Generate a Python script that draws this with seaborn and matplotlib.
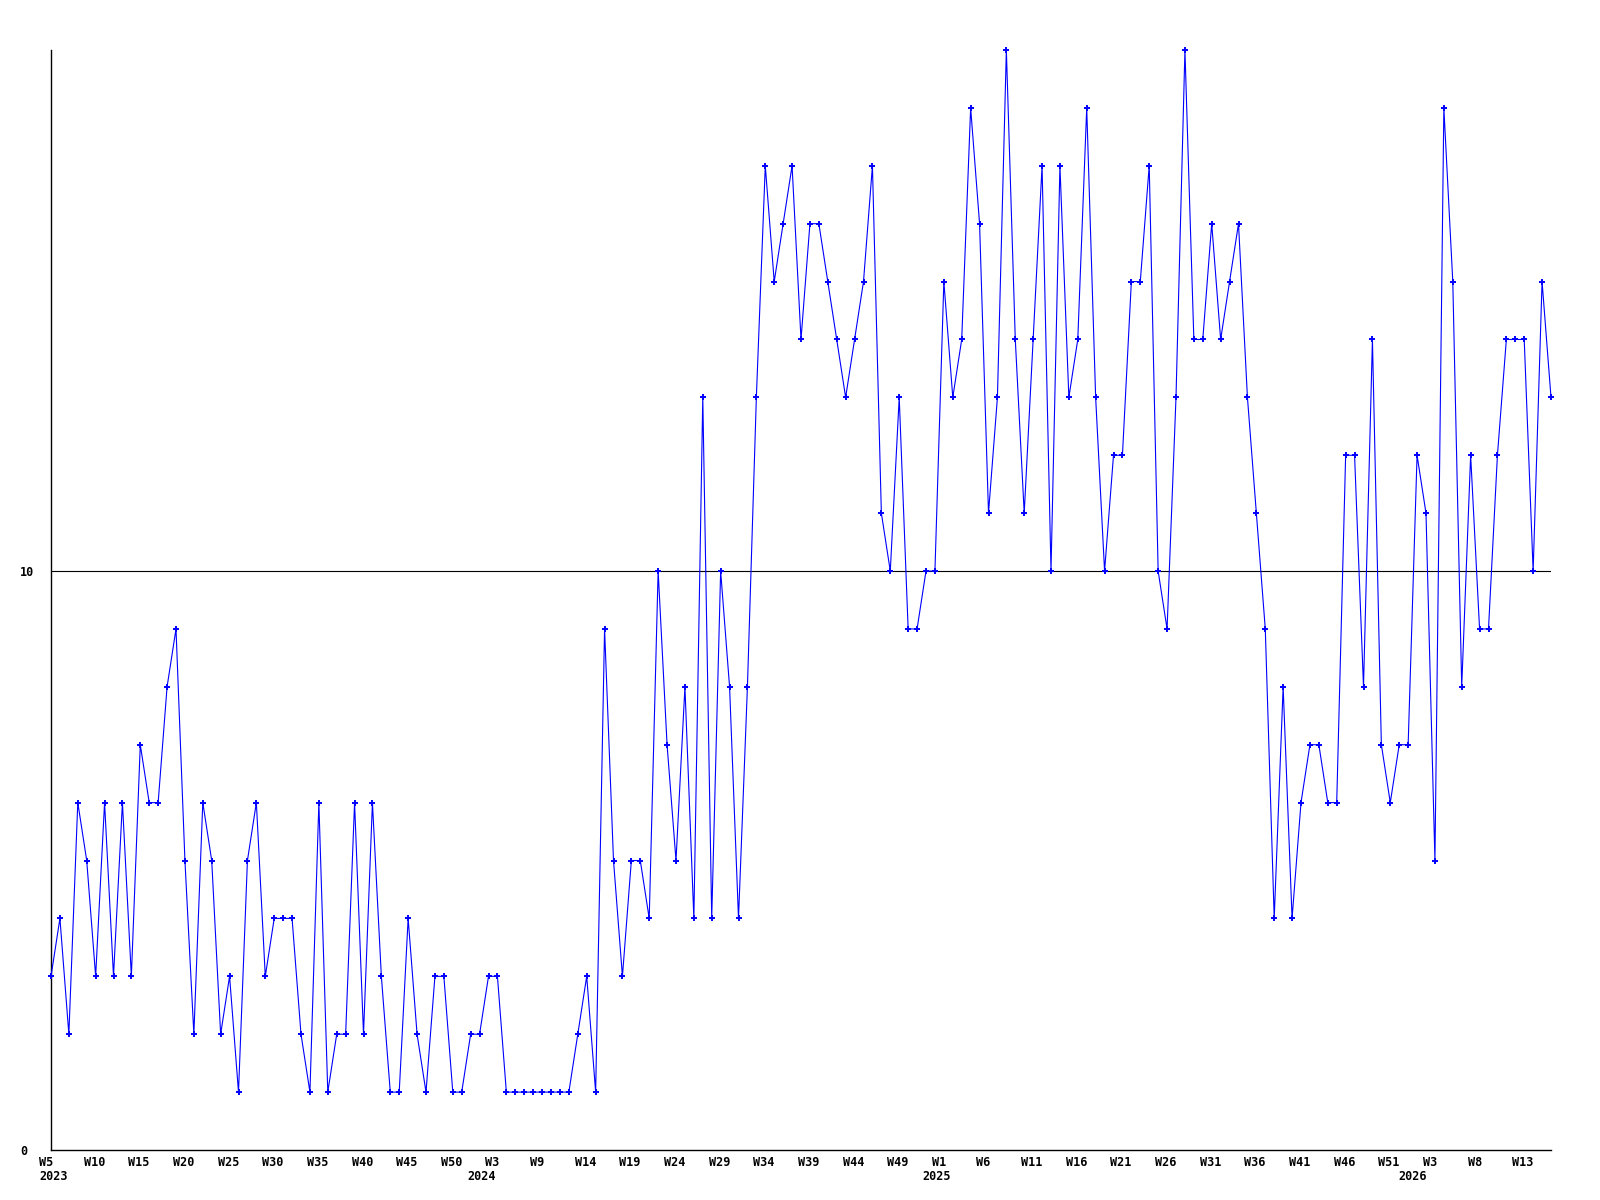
import matplotlib
matplotlib.use("Agg")
import matplotlib.pyplot as plt
import matplotlib.transforms as mtransforms
import seaborn as sns
import pandas as pd

# weekly counts, 2023 W5 .. 2026 W16
counts = [
    3, 4, 2, 6, 5, 3, 6, 3, 6, 3,
    7, 6, 6, 8, 9, 5, 2, 6, 5, 2,
    3, 1, 5, 6, 3, 4, 4, 4, 2, 1,
    6, 1, 2, 2, 6, 2, 6, 3, 1, 1,
    4, 2, 1, 3, 3, 1, 1, 2, 2, 3,
    3, 1, 1, 1, 1, 1, 1, 1, 1, 2,
    3, 1, 9, 5, 3, 5, 5, 4, 10, 7,
    5, 8, 4, 13, 4, 10, 8, 4, 8, 13,
    17, 15, 16, 17, 14, 16, 16, 15, 14, 13,
    14, 15, 17, 11, 10, 13, 9, 9, 10, 10,
    15, 13, 14, 18, 16, 11, 13, 19, 14, 11,
    14, 17, 10, 17, 13, 14, 18, 13, 10, 12,
    12, 15, 15, 17, 10, 9, 13, 19, 14, 14,
    16, 14, 15, 16, 13, 11, 9, 4, 8, 4,
    6, 7, 7, 6, 6, 12, 12, 8, 14, 7,
    6, 7, 7, 12, 11, 5, 18, 15, 8, 12,
    9, 9, 12, 14, 14, 14, 10, 15, 13,
]

week_labels = [
    "W5", "W10", "W15", "W20", "W25", "W30", "W35", "W40", "W45", "W50",
    "W3", "W9", "W14", "W19", "W24", "W29", "W34", "W39", "W44", "W49",
    "W1", "W6", "W11", "W16", "W21", "W26", "W31", "W36", "W41", "W46",
    "W51", "W3", "W8", "W13",
]
year_labels = ["2023", "2024", "2025", "2026"]
year_pos = [0, 48, 98.9, 152.2]

sns.set_style("white")
plt.rcParams["font.family"] = ["DejaVu Sans Mono"]

df = pd.DataFrame({"week": range(len(counts)), "count": counts})

fig = plt.figure(figsize=(16, 12), dpi=100)
ax = fig.add_axes([51 / 1600, 50 / 1200, 1500 / 1600, 1100 / 1200])

ax.axhline(10, color="black", lw=0.8, zorder=1)
sns.lineplot(data=df, x="week", y="count", ax=ax, color="#0000ff", lw=0.8,
             marker="+", markersize=4, markeredgewidth=1.4,
             markeredgecolor="#0000ff", clip_on=False, zorder=3)

ax.set_xlim(0, len(counts) - 1)
ax.set_ylim(0, 19)
ax.set_xlabel("")
ax.set_ylabel("")
for side in ["top", "right"]:
    ax.spines[side].set_visible(False)
for side in ["left", "bottom"]:
    ax.spines[side].set_color("black")
    ax.spines[side].set_linewidth(1.0)

font = dict(fontsize=8.5, fontweight="bold", color="black")

ax.set_yticks([0, 10], ["0", "10"], ha="left", **font)
ax.tick_params(axis="y", length=0, pad=22.3)
ax.set_xticks([])

# week labels under the axis, left aligned a little before each tick
trans = mtransforms.blended_transform_factory(ax.transData, ax.transAxes)
week_tr = mtransforms.offset_copy(trans, fig=fig, x=-12, y=-12, units="dots")
year_tr = mtransforms.offset_copy(trans, fig=fig, x=-12, y=-27, units="dots")
for i, lab in enumerate(week_labels):
    ax.text(i * 5, 0, lab, transform=week_tr, ha="left", va="center", **font)
for pos, lab in zip(year_pos, year_labels):
    ax.text(pos, 0, lab, transform=year_tr, ha="left", va="center", **font)

fig.savefig("out.png", dpi=100, facecolor="white")
